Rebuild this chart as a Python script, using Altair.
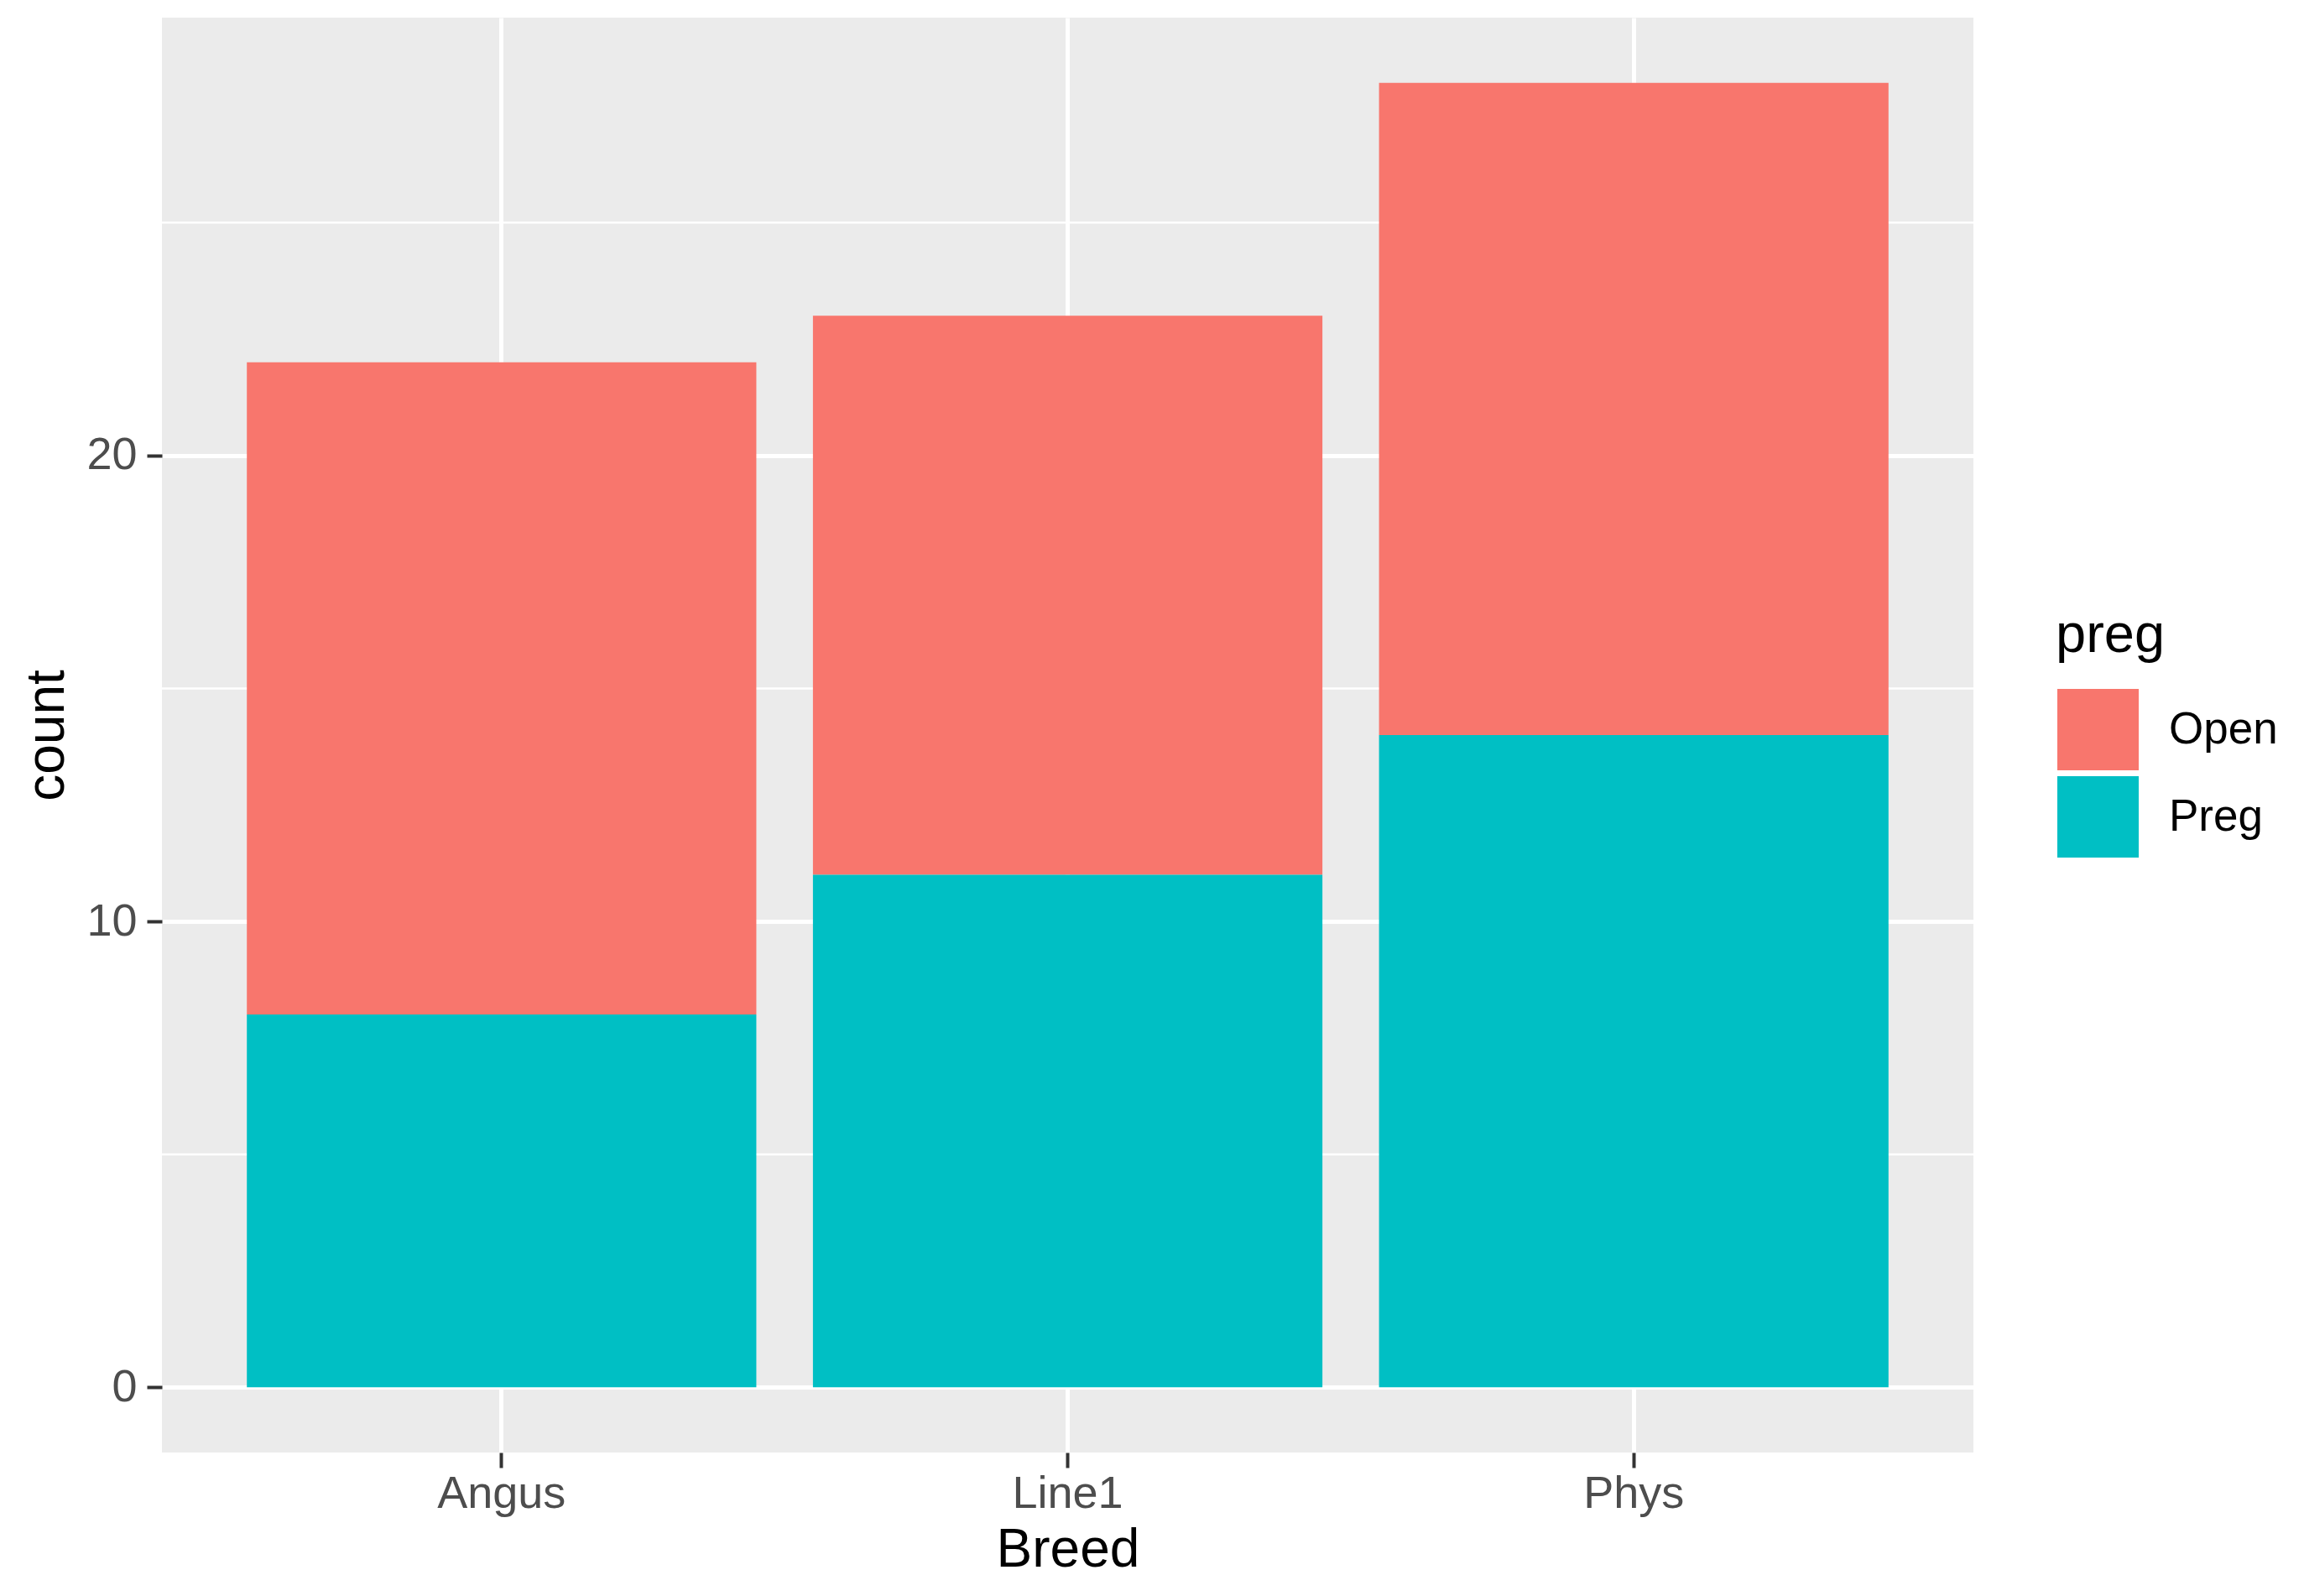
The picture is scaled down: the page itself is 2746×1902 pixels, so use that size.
import altair as alt
import pandas as pd

breeds = ["Angus", "Line1", "Phys"]
preg_levels = ["Open", "Preg"]
open_counts = [14, 12, 14]
preg_counts = [8, 11, 14]
y_major = [0, 10, 20]
y_minor = [5, 15, 25]
colors = ["#F8766D", "#00BFC4"]

rows = []
for b, o, p in zip(breeds, open_counts, preg_counts):
    rows.append({"Breed": b, "preg": "Open", "count": o, "stack_order": 1})
    rows.append({"Breed": b, "preg": "Preg", "count": p, "stack_order": 0})
df = pd.DataFrame(rows)
minor_df = pd.DataFrame({"v": y_minor})

FONT = "Liberation Sans"
yscale = alt.Scale(domain=[-1.4, 29.4], nice=False, zero=False)
y_axis = alt.Axis(
    title="count",
    values=y_major,
    grid=True,
    gridColor="white",
    gridWidth=5,
    labelPadding=12,
    titlePadding=14,
)

minor = alt.Chart(minor_df).mark_rule(color="white", strokeWidth=2.5).encode(
    y=alt.Y("v:Q", scale=yscale, axis=y_axis)
)

bars = alt.Chart(df).mark_bar().encode(
    x=alt.X(
        "Breed:N",
        sort=breeds,
        scale=alt.Scale(paddingInner=0.1, paddingOuter=0.15),
        axis=alt.Axis(
            title="Breed",
            labelAngle=0,
            grid=True,
            gridColor="white",
            gridWidth=5,
            labelPadding=4,
            titlePadding=8,
        ),
    ),
    y=alt.Y("count:Q", stack="zero", scale=yscale, axis=y_axis),
    color=alt.Color(
        "preg:N",
        scale=alt.Scale(domain=preg_levels, range=colors),
        legend=alt.Legend(
            title="preg",
            orient="none",
            legendX=2257,
            legendY=705,
            symbolType="square",
            symbolSize=9801,
            symbolStrokeColor="white",
            symbolStrokeWidth=2,
            symbolOpacity=1,
            rowPadding=-20,
            labelOffset=34,
            labelFontSize=53,
            labelFont=FONT,
            labelColor="black",
            titleFont=FONT,
            titleFontSize=65,
            titleFontWeight="normal",
            titleColor="black",
            titlePadding=28,
            padding=0,
        ),
    ),
    order=alt.Order("stack_order:Q", sort="ascending"),
)

chart = (
    alt.layer(minor, bars)
    .properties(
        width=2159,
        height=1710,
        background="white",
        padding={"left": 16, "top": 13, "right": 5, "bottom": 5},
    )
    .configure_view(fill="#EBEBEB", strokeWidth=0)
    .configure_axis(
        domain=False,
        tickColor="#333333",
        tickWidth=4,
        tickSize=18,
        labelFont=FONT,
        labelFontSize=54,
        labelColor="#4D4D4D",
        titleFont=FONT,
        titleFontSize=64,
        titleFontWeight="normal",
        titleColor="black",
    )
)

chart.save("out.html", embed_options={"renderer": "svg", "actions": False})
